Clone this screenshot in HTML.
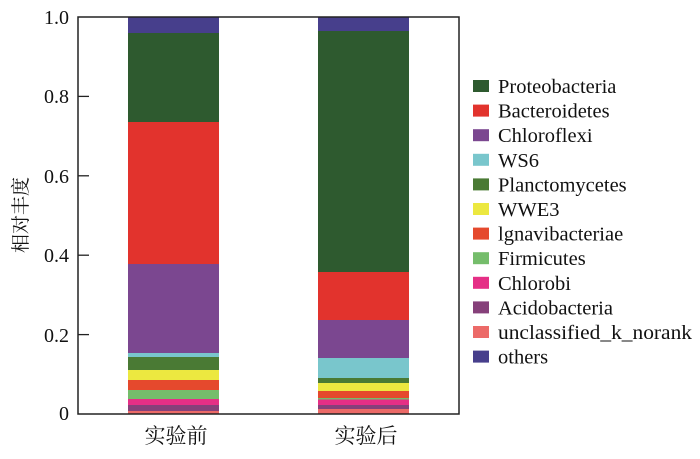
<!DOCTYPE html>
<html><head><meta charset="utf-8"><style>
body{margin:0;background:#fff;width:700px;height:454px;overflow:hidden}
text{font-family:"Liberation Serif","Noto Serif CJK SC",serif;fill:#111}
</style></head><body>
<svg width="700" height="454" xmlns="http://www.w3.org/2000/svg">
<g>
<rect x="128" y="17" width="91" height="16" fill="#473f8c"/>
<rect x="128" y="33" width="91" height="89" fill="#2e5a2f"/>
<rect x="128" y="122" width="91" height="142" fill="#e2332d"/>
<rect x="128" y="264" width="91" height="89" fill="#7b4790"/>
<rect x="128" y="353" width="91" height="4" fill="#79c6cc"/>
<rect x="128" y="357" width="91" height="13" fill="#4a7a34"/>
<rect x="128" y="370" width="91" height="10" fill="#ece840"/>
<rect x="128" y="380" width="91" height="10" fill="#e5492d"/>
<rect x="128" y="390" width="91" height="9" fill="#75bd6b"/>
<rect x="128" y="399" width="91" height="6" fill="#e52f86"/>
<rect x="128" y="405" width="91" height="6" fill="#86407a"/>
<rect x="128" y="411" width="91" height="3" fill="#ec6a68"/>
</g>
<g>
<rect x="318" y="17" width="91" height="14" fill="#473f8c"/>
<rect x="318" y="31" width="91" height="241" fill="#2e5a2f"/>
<rect x="318" y="272" width="91" height="48" fill="#e2332d"/>
<rect x="318" y="320" width="91" height="38" fill="#7b4790"/>
<rect x="318" y="358" width="91" height="20" fill="#79c6cc"/>
<rect x="318" y="378" width="91" height="5" fill="#4a7a34"/>
<rect x="318" y="383" width="91" height="8" fill="#ece840"/>
<rect x="318" y="391" width="91" height="7" fill="#e5492d"/>
<rect x="318" y="398" width="91" height="1.5" fill="#75bd6b"/>
<rect x="318" y="399.5" width="91" height="5.5" fill="#e52f86"/>
<rect x="318" y="405" width="91" height="4" fill="#86407a"/>
<rect x="318" y="409" width="91" height="5" fill="#ec6a68"/>
</g>
<rect x="78" y="17" width="381" height="397" fill="none" stroke="#222" stroke-width="1.5"/>
<g stroke="#222" stroke-width="1.3">
<line x1="78" y1="96.4" x2="89" y2="96.4"/>
<line x1="78" y1="175.8" x2="89" y2="175.8"/>
<line x1="78" y1="255.2" x2="89" y2="255.2"/>
<line x1="78" y1="334.6" x2="89" y2="334.6"/>
</g>
<g font-size="20" text-anchor="end">
<text x="69" y="24">1.0</text>
<text x="69" y="103">0.8</text>
<text x="69" y="183">0.6</text>
<text x="69" y="262">0.4</text>
<text x="69" y="342">0.2</text>
<text x="69" y="420">0</text>
</g>
<text transform="translate(27,215) rotate(-90)" font-size="19" text-anchor="middle">相对丰度</text>
<text x="176" y="443" font-size="21" text-anchor="middle">实验前</text>
<text x="366" y="443" font-size="21" text-anchor="middle">实验后</text>
<g font-size="20.5">
<rect x="473" y="80" width="16" height="12" fill="#2e5a2f"/><text x="498" y="93">Proteobacteria</text>
<rect x="473" y="104.6" width="16" height="12" fill="#e2332d"/><text x="498" y="117.6">Bacteroidetes</text>
<rect x="473" y="129.2" width="16" height="12" fill="#7b4790"/><text x="498" y="142.2">Chloroflexi</text>
<rect x="473" y="153.8" width="16" height="12" fill="#79c6cc"/><text x="498" y="166.8">WS6</text>
<rect x="473" y="178.4" width="16" height="12" fill="#4a7a34"/><text x="498" y="191.4">Planctomycetes</text>
<rect x="473" y="203" width="16" height="12" fill="#ece840"/><text x="498" y="216">WWE3</text>
<rect x="473" y="227.6" width="16" height="12" fill="#e5492d"/><text x="498" y="240.6">lgnavibacteriae</text>
<rect x="473" y="252.2" width="16" height="12" fill="#75bd6b"/><text x="498" y="265.2">Firmicutes</text>
<rect x="473" y="276.8" width="16" height="12" fill="#e52f86"/><text x="498" y="289.8">Chlorobi</text>
<rect x="473" y="301.4" width="16" height="12" fill="#86407a"/><text x="498" y="314.4">Acidobacteria</text>
<rect x="473" y="326" width="16" height="12" fill="#ec6a68"/><text x="498" y="339" textLength="194" lengthAdjust="spacingAndGlyphs">unclassified_k_norank</text>
<rect x="473" y="350.6" width="16" height="12" fill="#473f8c"/><text x="498" y="363.6">others</text>
</g>
</svg>
</body></html>
